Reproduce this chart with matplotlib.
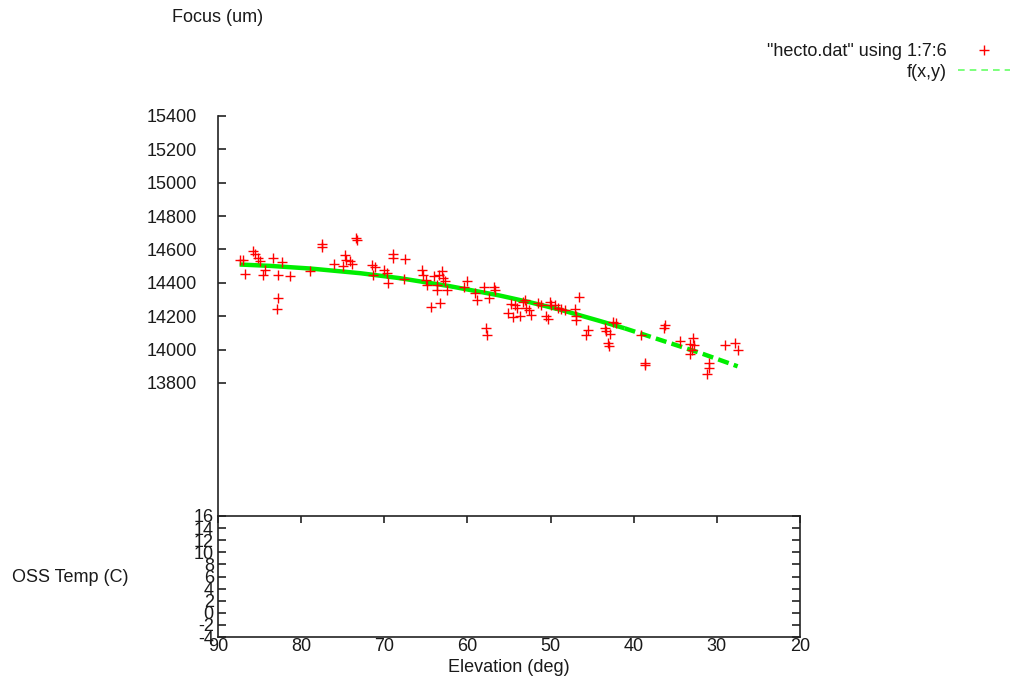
import matplotlib.pyplot as plt
from matplotlib.lines import Line2D

plt.rcParams['font.family'] = ['Liberation Sans', 'DejaVu Sans']
plt.rcParams['font.size'] = 13
plt.rcParams['text.color'] = '#1a1a1a'
plt.rcParams['axes.unicode_minus'] = False

# measured focus vs elevation ("hecto.dat" using 1:7:6)
elevation = [87.4, 87.0, 85.8, 85.5, 85.2, 85.0, 86.7, 83.4, 82.3, 84.4,
             84.6, 82.8, 81.3, 82.8, 82.9, 78.9, 77.5, 77.5, 73.3, 73.4,
             76.1, 75.0, 74.7, 74.6, 74.1, 73.9, 71.5, 71.1, 71.3, 70.0,
             69.7, 69.6, 68.9, 68.9, 67.5, 67.6, 65.5, 65.3, 65.0, 64.9,
             64.0, 63.7, 63.7, 63.4, 63.1, 62.9, 62.7, 62.5, 64.4, 63.3,
             60.1, 60.4, 59.1, 58.8, 58.0, 56.8, 56.7, 57.4, 57.8, 57.6,
             55.1, 54.7, 54.5, 54.3, 54.0, 53.7, 53.3, 53.1, 52.9, 52.6,
             52.3, 51.5, 51.1, 50.5, 50.3, 50.1, 49.9, 49.5, 49.1, 48.7,
             46.6, 47.1, 47.0, 47.0, 48.3, 45.5, 45.7, 43.5, 43.3, 42.9,
             43.1, 43.0, 42.1, 42.5, 39.1, 38.7, 38.6, 36.2, 36.4, 34.4,
             32.9, 33.2, 32.8, 33.0, 33.2, 30.9, 31.0, 31.2, 29.0, 27.8,
             27.4]
focus = [14540, 14535, 14590, 14575, 14550, 14530, 14455, 14550, 14525, 14475,
         14445, 14450, 14440, 14310, 14245, 14470, 14630, 14615, 14655, 14670,
         14515, 14500, 14565, 14540, 14530, 14515, 14505, 14495, 14450, 14480,
         14460, 14400, 14575, 14550, 14545, 14425, 14475, 14450, 14420, 14390,
         14440, 14390, 14355, 14450, 14470, 14430, 14410, 14360, 14255, 14280,
         14410, 14375, 14340, 14300, 14375, 14375, 14360, 14310, 14130, 14085,
         14220, 14275, 14195, 14270, 14250, 14200, 14285, 14300, 14250, 14235,
         14205, 14280, 14270, 14200, 14185, 14285, 14270, 14265, 14250, 14245,
         14315, 14245, 14200, 14175, 14235, 14120, 14090, 14130, 14110, 14095,
         14040, 14020, 14160, 14165, 14090, 13920, 13905, 14150, 14130, 14050,
         14070, 14035, 14030, 14000, 13975, 13920, 13890, 13855, 14030, 14040,
         14000]

# fitted curve f(x,y)
fit_elev = [87.4, 83.8, 78.9, 72.9, 68.1, 62.1, 56.1, 52.5, 48.9, 44.1,
            41.1, 36.8, 32.0, 27.5]
fit_focus = [14510, 14502, 14486, 14458, 14428, 14380, 14324, 14284, 14240, 14172,
             14128, 14058, 13980, 13900]
solid_end = 10

focus_ticks = list(range(13800, 15401, 200))
temp_ticks = list(range(-4, 17, 2))
elev_ticks = list(range(90, 19, -10))

W, H = 1011, 685
fig = plt.figure(figsize=(W / 100, H / 100), dpi=100)

# upper panel: focus axis only
ax = fig.add_axes([218 / W, 1 - 516.5 / H, 582 / W, 400.5 / H])
ax.patch.set_visible(False)
for side in ['top', 'right', 'bottom']:
    ax.spines[side].set_visible(False)
ax.spines['left'].set_linewidth(1.2)
ax.spines['left'].set_color('#222222')
ax.set_xlim(90, 20)
ax.set_ylim(13000, 15400)
ax.set_xticks([])
ax.set_yticks(focus_ticks)
ax.tick_params(axis='y', direction='in', length=6, width=1.2, pad=15,
               colors='#222222', labelcolor='#1a1a1a')

ax.plot(elevation, focus, '+', color='#ff0000', ms=7.5, mew=1, zorder=3)
ax.plot(fit_elev[:solid_end + 1], fit_focus[:solid_end + 1], '-',
        color='#00ee00', lw=3.2, zorder=2, solid_capstyle='butt')
ax.plot(fit_elev[solid_end:], fit_focus[solid_end:], '--',
        color='#00ee00', lw=3.2, dashes=(2.5, 1.2), zorder=2)

handles = [Line2D([], [], ls='none', marker='+', color='#ff0000', ms=7.5, mew=1),
           Line2D([], [], ls='--', color='#66ff66', lw=1.2, dashes=(4, 3))]
labels = ['"hecto.dat" using 1:7:6', 'f(x,y)']
ax.legend(handles, labels, loc='upper right', bbox_to_anchor=(1010 / W, 1 - 43 / H),
          bbox_transform=fig.transFigure, frameon=False, markerfirst=False,
          handlelength=2.9, handletextpad=0.6, borderpad=0, borderaxespad=0,
          labelspacing=0.2, numpoints=1)

# lower panel: OSS temperature box
ax2 = fig.add_axes([218 / W, 1 - 637 / H, 582 / W, 121 / H])
ax2.patch.set_visible(False)
for s in ax2.spines.values():
    s.set_linewidth(1.2)
    s.set_color('#222222')
ax2.set_xlim(90, 20)
ax2.set_ylim(-4, 16)
ax2.set_xticks(elev_ticks)
ax2.set_yticks(temp_ticks)
ax2.tick_params(axis='y', direction='in', length=6, width=1.2, left=True,
                right=True, pad=3, colors='#222222', labelcolor='#1a1a1a')
ax2.tick_params(axis='x', direction='in', length=5, width=1.2, top=True,
                bottom=False, labelbottom=True, pad=1, colors='#222222',
                labelcolor='#1a1a1a')

fig.text(217.5 / W, 1 - 17 / H, 'Focus (um)', ha='center', va='center')
fig.text(12 / W, 1 - 577 / H, 'OSS Temp (C)', ha='left', va='center')
fig.text(509 / W, 1 - 667 / H, 'Elevation (deg)', ha='center', va='center')

fig.savefig('out.png', dpi=100)
